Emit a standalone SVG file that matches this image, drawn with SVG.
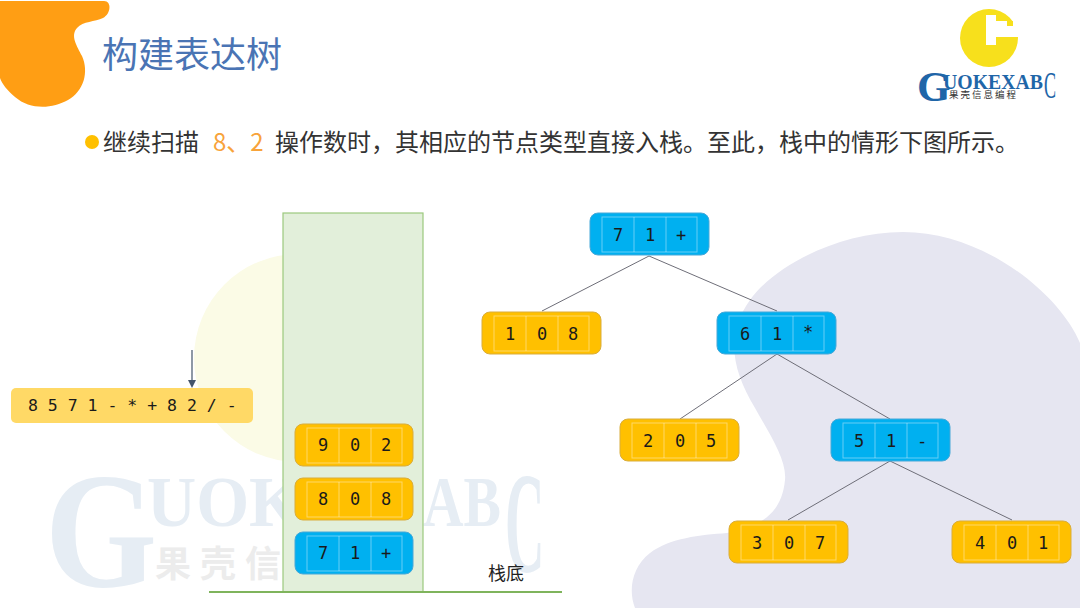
<svg xmlns="http://www.w3.org/2000/svg" width="1080" height="608" viewBox="0 0 1080 608">
<style>
.cjk{font-family:"Noto Sans CJK SC","Noto Sans",sans-serif}
.wm{font-family:"Liberation Serif",serif;font-weight:bold;fill:#e6edf4}
.o rect.b{fill:#ffc000;stroke:#d9ad3c}
.c rect.b{fill:#00b0f0;stroke:#46a8d8}
.cell{fill:none;stroke:#fff;stroke-opacity:.4;stroke-width:1}
.v{font-family:"DejaVu Sans Mono",monospace;font-size:17px;fill:#1a1a1a;text-anchor:middle}
.edge{stroke:#6e6e78;stroke-width:1;fill:none}
</style>
<defs>
<g id="cells"><rect class="cell" x="12" y="4" width="95" height="35"/><path class="cell" d="M44 4V39M76 4V39"/></g>
</defs>
<rect width="1080" height="608" fill="#fff"/>
<g id="background">
<path d="M1080 343C1060 295 985 232 903 232C840 232 775 265 750 300C725 335 732 370 755 408C770 435 787 460 785 480C783 500 775 512 763 520C750 530 735 531 727 533C700 535 670 538 650 553C632 567 628 590 635 608H1080Z" fill="#e6e6f1"/>
<circle cx="298" cy="358" r="104" fill="#fbfbe6"/>
<text class="wm" x="45" y="586" font-size="165" textLength="112" lengthAdjust="spacingAndGlyphs">G</text>
<text class="wm" x="147" y="526" font-size="72" textLength="155" lengthAdjust="spacingAndGlyphs">UOK</text>
<text class="wm" x="423" y="526" font-size="72" textLength="78" lengthAdjust="spacingAndGlyphs">AB</text>
<text class="wm" transform="translate(505,572) scale(.84,2.2)" font-size="65">C</text>
<text class="cjk" x="155" y="577" font-size="36" font-weight="700" fill="#ececec" letter-spacing="9">果壳信</text>
<path d="M0 1H104C112 1 111 14 103 18C95 22 83 21 77 28C70 36 77 46 82 56C89 72 84 91 68 100C52 109 30 110 15 97C7 90 2 84 0 78Z" fill="#ff9e14"/>
</g>
<g id="logo">
<circle cx="989" cy="38" r="29" fill="#f7e01c"/>
<path d="M986 15H996V21H1020V37H996V45H986Z" fill="#fff"/>
<rect x="1007" y="21" width="6" height="5" fill="#f7e01c"/>
<text x="917" y="101" font-family="Liberation Serif,serif" font-size="43" fill="#1f66a8" font-weight="bold">G</text>
<text x="943" y="89" font-family="Liberation Serif,serif" font-size="22" font-weight="bold" fill="#1f66a8" textLength="100" lengthAdjust="spacingAndGlyphs">UOKEXAB</text>
<text transform="translate(1044,98) scale(.95,2.05)" font-family="Liberation Serif,serif" font-size="19" fill="#1f66a8">C</text>
<text class="cjk" x="949" y="98" font-size="9.5" fill="#333" letter-spacing="2">果壳信息编程</text>
</g>
<g id="title"><text class="cjk" x="102" y="68" font-size="36" fill="#4a74b4">构建表达树</text></g>
<g id="bullet">
<circle cx="92" cy="142" r="7" fill="#ffc000"/>
<text class="cjk" x="103" y="151" font-size="24" fill="#333"><tspan>继续扫描</tspan><tspan x="213" fill="#f8a33a">8、2</tspan><tspan x="275">操作数时，其相应的节点类型直接入栈。至此，栈中的情形下图所示。</tspan></text>
</g>
<g id="stack">
<rect x="283" y="213" width="140" height="379" fill="#e2efda" stroke="#9cc97e" stroke-width="1.2"/>
<path d="M209 592H562" stroke="#7fb45c" stroke-width="2"/>
<text class="cjk" x="488" y="580" font-size="18" fill="#222">栈底</text>
</g>
<g id="expr">
<rect x="11" y="388" width="242" height="35" rx="5" fill="#ffd966"/>
<text x="28" y="411" font-family="DejaVu Sans Mono,monospace" font-size="16.5" fill="#1a1a1a" xml:space="preserve">8 5 7 1 - * + 8 2 / -</text>
</g>
<g id="connectors">
<path class="edge" d="M649 256L542 311M649 256L777 311M777 354L680 419M777 354L890 419M890 461L788 520M890 461L1012 520"/>
<path d="M192 350V381" stroke="#44546a" stroke-width="1.2" fill="none"/>
<path d="M188 380H196L192 388Z" fill="#44546a"/>
</g>
<g id="s902" class="node o" transform="translate(295,424)"><rect class="b" width="118" height="42" rx="8"/><use href="#cells"/><text class="v" x="28" y="27">9</text><text class="v" x="60" y="27">0</text><text class="v" x="91" y="27">2</text></g>
<g id="s808" class="node o" transform="translate(295,478)"><rect class="b" width="118" height="42" rx="8"/><use href="#cells"/><text class="v" x="28" y="27">8</text><text class="v" x="60" y="27">0</text><text class="v" x="91" y="27">8</text></g>
<g id="s71" class="node c" transform="translate(295,532)"><rect class="b" width="118" height="42" rx="8"/><use href="#cells"/><text class="v" x="28" y="27">7</text><text class="v" x="60" y="27">1</text><text class="v" x="91" y="27">+</text></g>
<g id="t71" class="node c" transform="translate(590,213)"><rect class="b" width="119" height="42" rx="8"/><use href="#cells"/><text class="v" x="28" y="28">7</text><text class="v" x="60" y="28">1</text><text class="v" x="91" y="28">+</text></g>
<g id="t108" class="node o" transform="translate(482,312)"><rect class="b" width="119" height="42" rx="8"/><use href="#cells"/><text class="v" x="28" y="28">1</text><text class="v" x="60" y="28">0</text><text class="v" x="91" y="28">8</text></g>
<g id="t61" class="node c" transform="translate(717,312)"><rect class="b" width="119" height="42" rx="8"/><use href="#cells"/><text class="v" x="28" y="28">6</text><text class="v" x="60" y="28">1</text><text class="v" x="91" y="26">*</text></g>
<g id="t205" class="node o" transform="translate(620,419)"><rect class="b" width="119" height="42" rx="8"/><use href="#cells"/><text class="v" x="28" y="28">2</text><text class="v" x="60" y="28">0</text><text class="v" x="91" y="28">5</text></g>
<g id="t51" class="node c" transform="translate(831,419)"><rect class="b" width="119" height="42" rx="8"/><use href="#cells"/><text class="v" x="28" y="28">5</text><text class="v" x="60" y="28">1</text><text class="v" x="91" y="28">-</text></g>
<g id="t307" class="node o" transform="translate(729,521)"><rect class="b" width="119" height="42" rx="8"/><use href="#cells"/><text class="v" x="28" y="28">3</text><text class="v" x="60" y="28">0</text><text class="v" x="91" y="28">7</text></g>
<g id="t401" class="node o" transform="translate(952,521)"><rect class="b" width="119" height="42" rx="8"/><use href="#cells"/><text class="v" x="28" y="28">4</text><text class="v" x="60" y="28">0</text><text class="v" x="91" y="28">1</text></g>
</svg>
